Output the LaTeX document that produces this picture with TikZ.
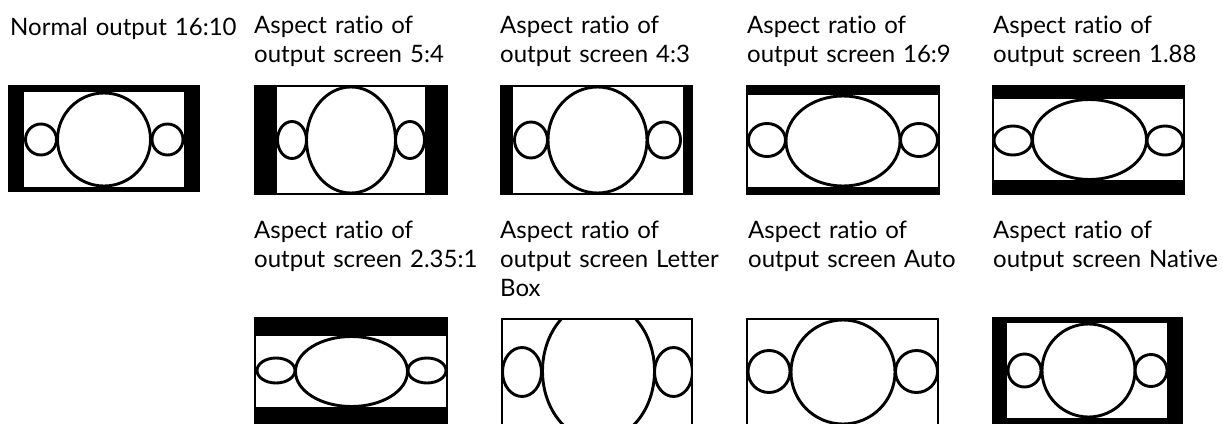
\documentclass[tikz,border=0pt]{standalone}
\usepackage{fontspec}
\setmainfont[Ligatures=NoCommon]{Lato}
\begin{document}
\begin{tikzpicture}[x=1pt,y=-1pt,
  bar/.style={fill=black},
  hole/.style={fill=white},
  eye/.style={draw=black,line width=2.9pt},
  lbl/.style={anchor=base west,inner sep=0pt,text width=250pt,align=left,
    font=\fontsize{24}{29}\selectfont}]
\useasboundingbox (0,0) rectangle (1223,423);
% labels
\node[lbl] (l1) at (10,35) {Normal output 16:10};
\node[lbl] (l2) at (254,33) {Aspect ratio of\\output screen 5:4};
\node[lbl] (l3) at (500,33) {Aspect ratio of\\output screen 4:3};
\node[lbl] (l4) at (747,33) {Aspect ratio of\\output screen 16:9};
\node[lbl] (l5) at (993,33) {Aspect ratio of\\output screen 1.88};
\node[lbl] (l6) at (254,238) {Aspect ratio of\\output screen 2.35:1};
\node[lbl] (l7) at (500,238) {Aspect ratio of\\output screen Letter\\Box};
\node[lbl] (l8) at (748,238) {Aspect ratio of\\output screen Auto};
\node[lbl] (l9) at (993,238) {Aspect ratio of\\output screen Native};
% frame 1: normal 16:10
\fill[bar] (8,85) rectangle (200,192);
\fill[hole] (24,92) rectangle (184,187);
\draw[eye] (104,139.5) circle[radius=46.5];
\draw[eye] (41,139.5) circle[radius=15.5];
\draw[eye] (167.5,139.5) circle[radius=15.5];
% frame 2: 5:4
\fill[bar] (254,85) rectangle (448,195);
\fill[hole] (277,87) rectangle (425,193);
\draw[eye] (351,140) ellipse[x radius=44.5,y radius=53];
\draw[eye] (292,140) ellipse[x radius=14.5,y radius=18.5];
\draw[eye] (410,140) ellipse[x radius=14.5,y radius=18.5];
% frame 3: 4:3
\fill[bar] (500,85) rectangle (693,195);
\fill[hole] (513,87) rectangle (683,193);
\draw[eye] (597.5,140) ellipse[x radius=49.5,y radius=53];
\draw[eye] (531,140) ellipse[x radius=16.5,y radius=18];
\draw[eye] (664,140) ellipse[x radius=16.5,y radius=18];
% frame 4: 16:9
\fill[bar] (746,85) rectangle (940,195);
\fill[hole] (748,95) rectangle (938,187);
\draw[eye] (843,141) ellipse[x radius=57,y radius=45];
\draw[eye] (767,140) ellipse[x radius=18.5,y radius=16.5];
\draw[eye] (919,140) ellipse[x radius=18.5,y radius=16.5];
% frame 5: 1.88
\fill[bar] (992,85) rectangle (1185,195);
\fill[hole] (994,99) rectangle (1183,180);
\draw[eye] (1089.5,139.5) ellipse[x radius=57,y radius=40];
\draw[eye] (1013,140.5) ellipse[x radius=19,y radius=14.5];
\draw[eye] (1165,140.5) ellipse[x radius=18,y radius=14.5];
% frame 6: 2.35:1
\fill[bar] (254,317) rectangle (448,425);
\fill[hole] (256,336) rectangle (446,407);
\draw[eye] (351.5,371.5) ellipse[x radius=56,y radius=35];
\draw[eye] (276,370.5) ellipse[x radius=19,y radius=12.5];
\draw[eye] (427,370.5) ellipse[x radius=19,y radius=12.5];
% frame 7: letter box
\fill[bar] (501,318) rectangle (693,426);
\fill[hole] (503,320) rectangle (691,424);
\begin{scope}
\clip (503,320) rectangle (691,424);
\draw[eye] (598.5,371) ellipse[x radius=56,y radius=69.5];
\draw[eye] (522,372) ellipse[x radius=19.5,y radius=24.5];
\draw[eye] (673.5,372) ellipse[x radius=19,y radius=24.5];
\end{scope}
% frame 8: auto
\fill[bar] (746,318) rectangle (939,426);
\fill[hole] (748,320) rectangle (937,424);
\begin{scope}
\clip (748,320) rectangle (937,424);
\draw[eye] (843,372) circle[radius=52];
\draw[eye] (769,371.5) circle[radius=21];
\draw[eye] (916.5,371.5) circle[radius=21];
\end{scope}
% frame 9: native
\fill[bar] (992,317) rectangle (1183,425);
\fill[hole] (1007,323) rectangle (1167,418);
\draw[eye] (1088.5,370.5) circle[radius=46.5];
\draw[eye] (1024.5,370.5) circle[radius=16.5];
\draw[eye] (1151,370.5) circle[radius=16];
\end{tikzpicture}
\end{document}
